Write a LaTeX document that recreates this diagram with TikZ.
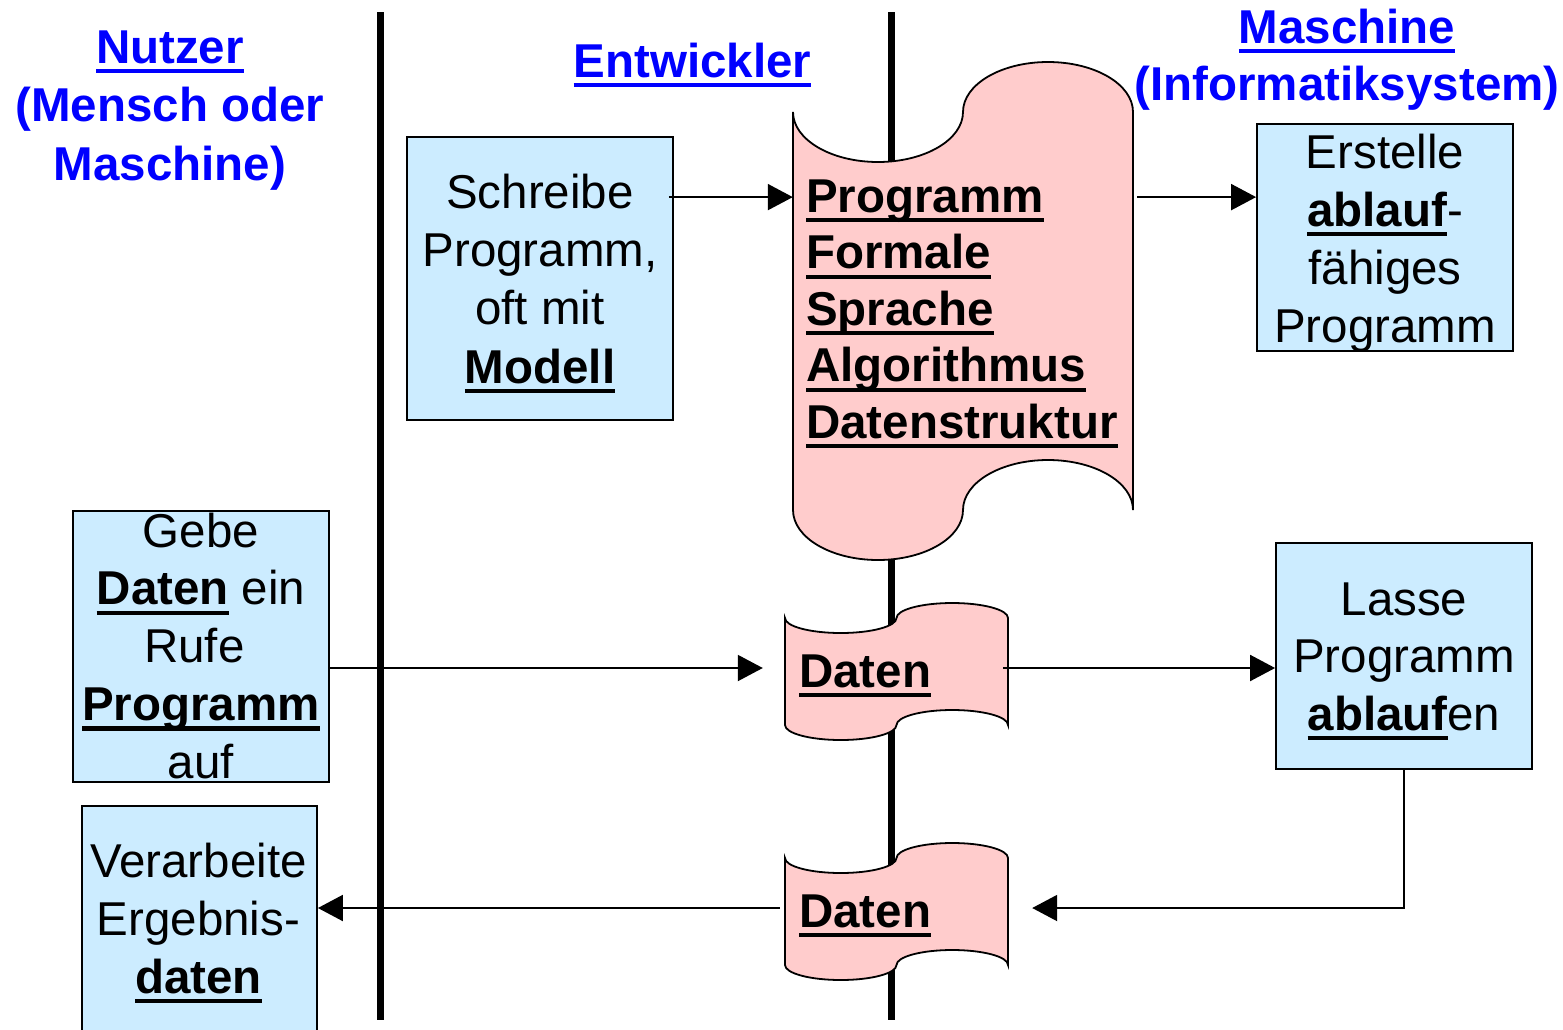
\documentclass[tikz,border=0pt]{standalone}
\usepackage{fontspec}
\setmainfont{Liberation Sans}
\usetikzlibrary{arrows.meta}

\definecolor{boxblue}{RGB}{204,236,255}
\definecolor{tapepink}{RGB}{255,204,204}
\definecolor{headblue}{RGB}{0,0,255}

% underline drawn as a rule under the word, in the current colour
\newcommand\uln[1]{\setbox0=\hbox{#1}\rlap{\rule[-0.215em]{\wd0}{0.09em}}\box0\relax}
% fixed height of the first line, so that a node's top sits 40pt above its first baseline
\newcommand\firstline{\rule{0pt}{40pt}}
\newcommand\txt[1]{\fontsize{47.5}{#1}\selectfont}

% punched tape: left x, top baseline y, width, height, wave amplitude
\newcommand\tapeshape[5]{%
  \pgfmathsetmacro\tpx{#1}\pgfmathsetmacro\tpy{#2}%
  \pgfmathsetmacro\tprx{#3/4}\pgfmathsetmacro\tpb{#2+#4}%
  \pgfmathsetmacro\tpa{#5}\pgfmathsetmacro\tpk{0.5523}%
  \draw[tape] (\tpx,\tpy)
    .. controls (\tpx,{\tpy+\tpk*\tpa}) and ({\tpx+(1-\tpk)*\tprx},{\tpy+\tpa}) .. ({\tpx+\tprx},{\tpy+\tpa})
    .. controls ({\tpx+(1+\tpk)*\tprx},{\tpy+\tpa}) and ({\tpx+2*\tprx},{\tpy+\tpk*\tpa}) .. ({\tpx+2*\tprx},\tpy)
    .. controls ({\tpx+2*\tprx},{\tpy-\tpk*\tpa}) and ({\tpx+(3-\tpk)*\tprx},{\tpy-\tpa}) .. ({\tpx+3*\tprx},{\tpy-\tpa})
    .. controls ({\tpx+(3+\tpk)*\tprx},{\tpy-\tpa}) and ({\tpx+4*\tprx},{\tpy-\tpk*\tpa}) .. ({\tpx+4*\tprx},\tpy)
    -- ({\tpx+4*\tprx},\tpb)
    .. controls ({\tpx+4*\tprx},{\tpb-\tpk*\tpa}) and ({\tpx+(3+\tpk)*\tprx},{\tpb-\tpa}) .. ({\tpx+3*\tprx},{\tpb-\tpa})
    .. controls ({\tpx+(3-\tpk)*\tprx},{\tpb-\tpa}) and ({\tpx+2*\tprx},{\tpb-\tpk*\tpa}) .. ({\tpx+2*\tprx},\tpb)
    .. controls ({\tpx+2*\tprx},{\tpb+\tpk*\tpa}) and ({\tpx+(1+\tpk)*\tprx},{\tpb+\tpa}) .. ({\tpx+\tprx},{\tpb+\tpa})
    .. controls ({\tpx+(1-\tpk)*\tprx},{\tpb+\tpa}) and (\tpx,{\tpb+\tpk*\tpa}) .. (\tpx,\tpb)
    -- cycle;}

\begin{document}
\begin{tikzpicture}[x=1pt,y=-1pt,
  lane/.style={line width=7pt},
  actbox/.style={rectangle,draw=black,fill=boxblue,line width=1.8pt,inner sep=0pt},
  tape/.style={draw=black,fill=tapepink,line width=1.8pt},
  tapebody/.style={rectangle,inner sep=0pt},
  conn/.style={line width=2pt,-{Triangle[length=25pt,width=26pt]}},
  head/.style={font=\bfseries\txt{#1},text=headblue,align=center,inner sep=0pt,anchor=north},
  body/.style={font=\txt{#1},text=black,align=center,inner sep=0pt,anchor=north},
  tapetext/.style={font=\bfseries\txt{#1},text=black,align=left,inner sep=0pt}]

\useasboundingbox (0,0) rectangle (1563,1029);

% swimlane separators
\draw[lane] (380,12) -- (380,1020);
\draw[lane] (891,12) -- (891,1020);

% activity boxes
\node[actbox,minimum width=266pt,minimum height=283pt] (sch) at (540,278.5) {};
\node[actbox,minimum width=256pt,minimum height=227pt] (erst) at (1385,237.5) {};
\node[actbox,minimum width=256pt,minimum height=271pt] (gebe) at (201,646.5) {};
\node[actbox,minimum width=256pt,minimum height=226pt] (lasse) at (1404,656) {};
\node[actbox,minimum width=235pt,minimum height=230pt] (verarb) at (199.5,921) {};

% data tapes
\tapeshape{793}{112}{340}{398}{50}
\tapeshape{785}{618}{223}{107}{15}
\tapeshape{785}{858}{223}{107}{15}
\node[tapebody,minimum width=340pt,minimum height=398pt] (prog) at (963,311) {};
\node[tapebody,minimum width=223pt,minimum height=107pt] (tape1) at (896.5,668) {};
\node[tapebody,minimum width=223pt,minimum height=107pt] (tape2) at (896.5,908) {};

% connectors
\coordinate (a1) at ([yshift=-61pt]sch.north east);
\draw[conn] ([xshift=-5pt]a1) -- (a1 -| prog.west);
\draw[conn] ([xshift=4pt]a1 -| prog.east) -- (a1 -| erst.west);
\draw[conn] (gebe.east |- tape1.west) -- ([xshift=-22pt]tape1.west);
\draw[conn] ([xshift=-5pt]tape1.east) -- (tape1.east -| lasse.west);
\draw[conn] (lasse.south) |- ([xshift=24pt]tape2.east);
\draw[conn] ([xshift=-5pt]tape2.west) -- (tape2.west -| verarb.east);

% lane headings
\node[head=58.5] (nutzer) at (170,23) {\firstline\uln{Nutzer}\\(Mensch oder\\Maschine)};
\node[head=58] (entw) at (692.5,37) {\firstline\uln{Entwickler}};
\node[head=57] (masch) at (1347,3) {\firstline\uln{Maschine}\\(Informatiksystem)};

% box texts
\node[body=58.3] (schtext) at (540,168) {\firstline Schreibe\\Programm,\\oft mit\\\uln{\textbf{Modell}}};
\node[body=58] (ersttext) at (1385,128) {\firstline Erstelle\\\uln{\textbf{ablauf}}-\\fähiges\\Programm};
\node[body=57.75] (gebetext) at (201,507) {\firstline Gebe\\\uln{\textbf{Daten}} ein\\Rufe\kern.278em\\\uln{\textbf{Programm}}\\auf};
\node[body=57.5] (lassetext) at (1404,575) {\firstline Lasse\\Programm\\\uln{\textbf{ablauf}}en};
\node[body=58] (verarbtext) at (198.5,837) {\firstline Verarbeite\\Ergebnis-\\\uln{\textbf{daten}}};

% tape texts
\node[tapetext=56.5,anchor=north west] (progtext) at (806,172) {\firstline\uln{Programm}\\\uln{Formale}\\\uln{Sprache}\\\uln{Algorithmus}\\\uln{Datenstruktur}};
\node[tapetext=56.5,anchor=base west] (daten1) at (799,687) {\uln{Daten}};
\node[tapetext=56.5,anchor=base west] (daten2) at (799,927) {\uln{Daten}};
\end{tikzpicture}
\end{document}
